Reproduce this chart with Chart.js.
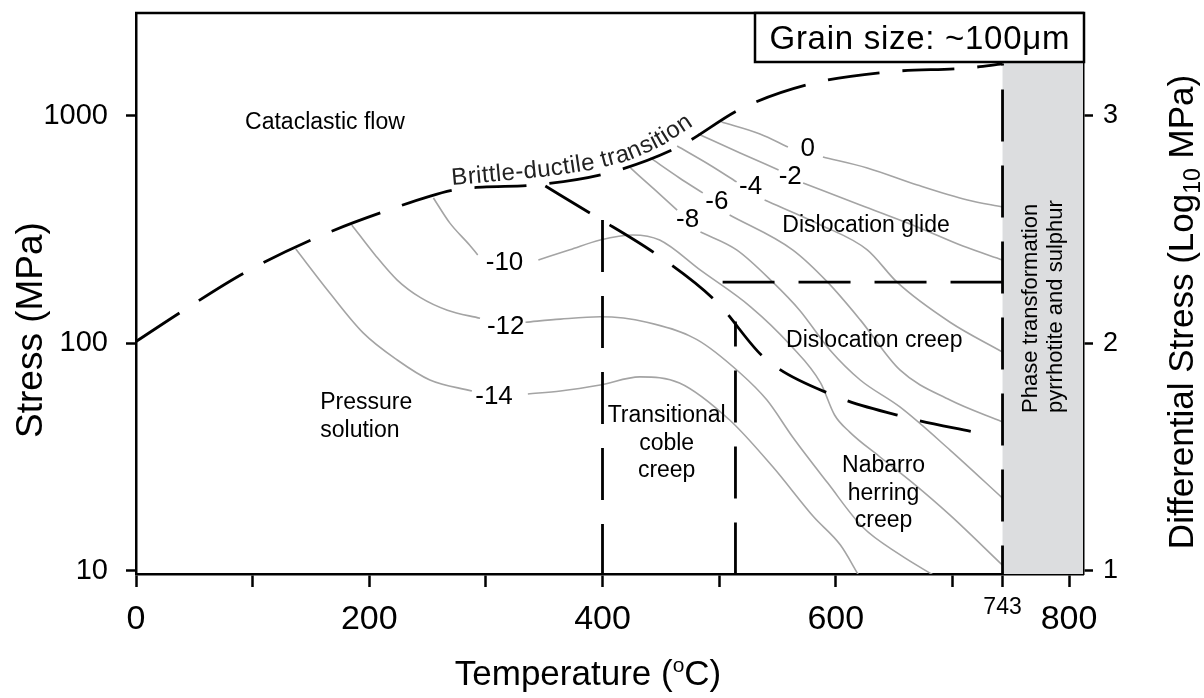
<!DOCTYPE html>
<html lang="en">
<head>
<meta charset="utf-8">
<title>Deformation mechanism map</title>
<script src="https://cdn.jsdelivr.net/npm/chart.js@4.4.1/dist/chart.umd.min.js"></script>
<style>
  html, body { margin: 0; padding: 0; background: #ffffff; }
  canvas { display: block; }
</style>
</head>
<body>
<canvas id="map" width="1204" height="698"></canvas>
<script>
// ---- axis ranges and ticks ----
const tempRange = [0, 812];
const stressRange = [9.7, 2836];
const tempTicks = [0, 100, 200, 300, 400, 500, 600, 700, 743, 800];
const tempTickLabels = ['0', '', '200', '', '400', '', '600', '', '', '800'];
const stressTicks = [10, 100, 1000];
const logStressTicks = [1, 2, 3];
const phaseTickLabel = '743';

// ---- mechanism boundaries (temperature in °C, stress in MPa) ----
const brittleT = [0, 39, 94, 154, 214, 272, 297, 340, 405, 465, 520, 578, 644, 713, 743];
const brittleS = [102, 138, 206, 291, 382, 473, 487, 497, 562, 731, 1084, 1383, 1561, 1626, 1693];

const creepT = [351, 392, 447, 498, 539, 597, 659, 722];
const creepS = [492, 367, 245, 152, 86.3, 59.4, 47.5, 40.4];

const cobleT = [400, 400];
const cobleS = [349, 9.5];
const nabarroT = [514, 514];
const nabarroS = [125, 9.5];
const glideT = [743, 503];
const glideS = [186, 186];
const phaseT = [743, 743];
const phaseS = [1700, 9.5];

// ---- strain-rate contours, log10 of strain rate (null = label gap) ----
const rateLevels = ['0', '-2', '-4', '-6', '-8', '-10', '-12', '-14'];
const rate0T  = [502, 535, 559, null, 589, 627, 670, 713, 743];
const rate0S  = [941, 834, 731, null, 660, 591, 497, 427, 398];
const rate2T  = [482, 518, 551, null, 572, 621, 672, 709, 743];
const rate2S  = [834, 688, 579, null, 508, 406, 322, 268, 233];
const rate4T  = [464, 492, 515, null, 539, 587, 627, 653, 698, 743];
const rate4S  = [738, 609, 513, null, 427, 332, 258, 185, 124, 91.7];
const rate6T  = [441, 466, 486, null, 509, 563, 593, 621, 655, 698, 743];
const rate6S  = [654, 534, 459, null, 367, 258, 186, 127, 76.5, 56.4, 45.2];
const rate8T  = [424, 445, 464, null, 484, 515, 546, 569, 595, 621, 655, 698, 743];
const rate8S  = [591, 473, 386, null, 309, 258, 186, 140, 93.6, 69.1, 52.6, 34.0, 20.9];
const rate10T = [255, 269, 286, 293, null, 345, 372, 398, 426, 449, 484, 527, 561, 587, 599, 612, 638, 666, 698, 743];
const rate10S = [436, 339, 271, 245, null, 233, 258, 285, 300, 285, 210, 145, 98.5, 67.1, 48.5, 40.8, 31.7, 24.4, 17.6, 10.6];
const rate12T = [185, 205, 224, 244, 267, 295, null, 334, 364, 398, 438, 481, 518, 541, 563, 593, 623, 655, 685];
const rate12S = [332, 245, 190, 159, 140, 129, null, 124, 128, 131, 124, 104, 74.2, 56.4, 38.8, 24.4, 15.6, 11.8, 9.5];
const rate14T = [137, 166, 195, 224, 252, 288, null, 336, 364, 398, 432, 466, 509, 546, 581, 604, 620];
const rate14S = [260, 167, 111, 84.6, 69.1, 61.8, null, 60.0, 61.8, 65.7, 71.3, 67.1, 46.1, 28.7, 17.3, 13.0, 9.5];

// where each contour's value is written
const rateLabelT = [576, 561, 527, 498, 473, 316, 317, 307];
const rateLabelS = [716, 540, 487, 419, 349, 226, 118, 58.2];

// ---- field names, anchored in (°C, MPa) ----
const fieldLabels = [
  { lines: ['Cataclastic flow'], t: 162, s: [877], align: 'center' },
  { lines: ['Pressure', 'solution'], t: 158, s: [51.5, 38.8], align: 'left' },
  { lines: ['Dislocation glide'], t: 626, s: [309], align: 'center' },
  { lines: ['Dislocation creep'], t: 633, s: [96.5], align: 'center' },
  { lines: ['Transitional', 'coble', 'creep'], t: 455, s: [45.2, 34.0, 25.9], align: 'center' },
  { lines: ['Nabarro', 'herring', 'creep'], t: 641, s: [27.2, 20.5, 15.6], align: 'center' }
];
const brittleLabel = 'Brittle-ductile transition';
const brittleLabelT = [271, 312, 355, 395, 424, 449, 475, 488];
const brittleLabelS = [497, 518, 545, 585, 641, 731, 886, 990];
const phaseLabelLines = ['Phase transformation', 'pyrrhotite and sulphur'];
const phaseLabelT = [772.5, 794];
const phaseLabelS = 49.5;
const grainLabel = 'Grain size: ~100\u03BCm';

const FONT = '"Liberation Sans", Arial, Helvetica, sans-serif';
const GREY_LINE = '#a4a4a4';
const BAND_FILL = '#dcdddf';

function points(T, S) {
  return T.map((t, i) => (S[i] === null ? { x: T[i - 1], y: null } : { x: t, y: S[i] }));
}

function dashed(T, S, extra) {
  return Object.assign({
    data: points(T, S), showLine: true, borderColor: '#000', borderWidth: 2.8,
    borderDash: [52, 24], pointRadius: 0, tension: 0, order: 0, borderCapStyle: 'butt'
  }, extra || {});
}

const rateSeries = [
  [rate0T, rate0S], [rate2T, rate2S], [rate4T, rate4S], [rate6T, rate6S],
  [rate8T, rate8S], [rate10T, rate10S], [rate12T, rate12S], [rate14T, rate14S]
];

const datasets = [
  dashed(brittleT, brittleS, { cubicInterpolationMode: 'monotone', borderDash: [52, 23] }),
  dashed(creepT, creepS, { cubicInterpolationMode: 'monotone', borderDash: [52, 23] }),
  dashed(cobleT, cobleS),
  dashed(nabarroT, nabarroS, { borderDashOffset: 27 }),
  dashed(glideT, glideS),
  dashed(phaseT, phaseS, { borderDashOffset: 50 }),
  ...rateSeries.map(([T, S]) => ({
    data: points(T, S), showLine: true, borderColor: GREY_LINE, borderWidth: 1.6,
    pointRadius: 0, cubicInterpolationMode: 'monotone', spanGaps: false, order: 1
  }))
];

function drawTextOnPath(ctx, text, pts, spacing) {
  const segs = [];
  let total = 0;
  for (let i = 1; i < pts.length; i++) {
    const dx = pts[i].x - pts[i - 1].x, dy = pts[i].y - pts[i - 1].y;
    const len = Math.hypot(dx, dy);
    segs.push({ x: pts[i - 1].x, y: pts[i - 1].y, dx, dy, len, start: total });
    total += len;
  }
  const at = (s) => {
    let g = segs[segs.length - 1];
    for (const sg of segs) { if (s <= sg.start + sg.len) { g = sg; break; } }
    const f = (s - g.start) / g.len;
    return { x: g.x + g.dx * f, y: g.y + g.dy * f };
  };
  let cursor = 0;
  for (const ch of text) {
    const w = ctx.measureText(ch).width;
    const mid = cursor + w / 2;
    const p = at(mid), p0 = at(Math.max(mid - 8, 0)), p1 = at(mid + 8);
    ctx.save();
    ctx.translate(p.x, p.y);
    ctx.rotate(Math.atan2(p1.y - p0.y, p1.x - p0.x));
    ctx.textAlign = 'center';
    ctx.fillText(ch, 0, 0);
    ctx.restore();
    cursor += w + spacing;
  }
}

// text made of runs with their own size and vertical shift, centred on (0,0)
function drawRuns(ctx, runs) {
  let total = 0;
  runs.forEach(r => { ctx.font = r.size + 'px ' + FONT; r.w = ctx.measureText(r.t).width; total += r.w; });
  let x = -total / 2;
  ctx.textAlign = 'left';
  ctx.textBaseline = 'alphabetic';
  runs.forEach(r => { ctx.font = r.size + 'px ' + FONT; ctx.fillText(r.t, x, r.dy || 0); x += r.w; });
}

const mapDecorations = {
  id: 'mapDecorations',
  beforeDatasetsDraw(chart) {
    const { ctx, chartArea: a, scales: { x } } = chart;
    const x0 = x.getPixelForValue(phaseT[0]);
    const top = a.top + 49;
    ctx.save();
    ctx.fillStyle = BAND_FILL;
    ctx.fillRect(x0, top, a.right - x0, a.bottom - top);
    ctx.restore();
  },
  afterDatasetsDraw(chart) {
    const { ctx, scales: { x, y } } = chart;
    ctx.save();
    ctx.fillStyle = '#000';
    // contour values
    ctx.font = '26px ' + FONT;
    ctx.textAlign = 'center';
    ctx.textBaseline = 'middle';
    rateLevels.forEach((lv, i) => {
      ctx.fillText(lv, x.getPixelForValue(rateLabelT[i]), y.getPixelForValue(rateLabelS[i]));
    });
    // field names
    ctx.font = '23px ' + FONT;
    ctx.textBaseline = 'alphabetic';
    fieldLabels.forEach(f => {
      ctx.textAlign = f.align;
      f.lines.forEach((ln, k) => ctx.fillText(ln, x.getPixelForValue(f.t), y.getPixelForValue(f.s[k])));
    });
    // boundary name along the brittle-ductile curve
    ctx.font = '24px ' + FONT;
    ctx.fillStyle = '#222';
    drawTextOnPath(ctx, brittleLabel,
      brittleLabelT.map((t, i) => ({ x: x.getPixelForValue(t), y: y.getPixelForValue(brittleLabelS[i]) })), 0.4);
    // phase transformation note
    ctx.fillStyle = '#000';
    ctx.font = '22px ' + FONT;
    ctx.textAlign = 'left';
    phaseLabelLines.forEach((ln, k) => {
      ctx.save();
      ctx.translate(x.getPixelForValue(phaseLabelT[k]), y.getPixelForValue(phaseLabelS));
      ctx.rotate(-Math.PI / 2);
      ctx.fillText(ln, 0, 0);
      ctx.restore();
    });
    ctx.restore();
  },
  afterDraw(chart) {
    const { ctx, chartArea: a, scales: { x } } = chart;
    ctx.save();
    ctx.strokeStyle = '#000';
    ctx.fillStyle = '#000';
    // top frame line
    ctx.lineWidth = 2.5;
    ctx.beginPath();
    ctx.moveTo(a.left - 1, a.top);
    ctx.lineTo(a.right + 1, a.top);
    ctx.stroke();
    // grain size box
    const bw = 329, bh = 49, bx = a.right + 1 - bw, by = a.top;
    ctx.fillStyle = '#fff';
    ctx.fillRect(bx, by, bw, bh);
    ctx.lineWidth = 2.5;
    ctx.strokeRect(bx, by, bw, bh);
    ctx.fillStyle = '#000';
    ctx.font = '33px ' + FONT;
    const gw = ctx.measureText(grainLabel).width;
    const gap = Math.max(0, (300 - gw) / (grainLabel.length - 1));
    let gx = bx + (bw - 300) / 2;
    ctx.textAlign = 'left';
    ctx.textBaseline = 'alphabetic';
    for (const ch of grainLabel) {
      ctx.fillText(ch, gx, by + 36);
      gx += ctx.measureText(ch).width + gap;
    }
    // 743 tick label
    ctx.textAlign = 'center';
    ctx.font = '23px ' + FONT;
    ctx.fillText(phaseTickLabel, x.getPixelForValue(743), a.bottom + 40);
    // axis titles
    ctx.save();
    ctx.translate(588, 685);
    drawRuns(ctx, [{ t: 'Temperature (', size: 35 }, { t: 'o', size: 21, dy: -13 }, { t: 'C)', size: 35 }]);
    ctx.restore();
    ctx.save();
    ctx.translate(42, 330);
    ctx.rotate(-Math.PI / 2);
    drawRuns(ctx, [{ t: 'Stress (MPa)', size: 37 }]);
    ctx.restore();
    ctx.save();
    ctx.translate(1193, 312);
    ctx.rotate(-Math.PI / 2);
    drawRuns(ctx, [{ t: 'Differential Stress (Log', size: 35 }, { t: '10', size: 23, dy: 7 }, { t: ' MPa)', size: 35 }]);
    ctx.restore();
    ctx.restore();
  }
};

const tickGrid = (len) => ({
  display: true, drawOnChartArea: false, drawTicks: true,
  tickLength: len, tickWidth: 2.5, tickColor: '#000'
});
const frame = { display: true, color: '#000', width: 2.5 };

new Chart(document.getElementById('map'), {
  type: 'scatter',
  data: { datasets },
  options: {
    responsive: false,
    animation: false,
    devicePixelRatio: 1,
    layout: { padding: { top: 13, left: 0, right: 0, bottom: 0 } },
    plugins: { legend: { display: false }, tooltip: { enabled: false } },
    scales: {
      x: {
        type: 'linear', position: 'bottom', min: tempRange[0], max: tempRange[1],
        afterBuildTicks: s => { s.ticks = tempTicks.map(v => ({ value: v })); },
        afterFit: s => { s.height = 124; s.paddingLeft = 0; s.paddingRight = 0; },
        ticks: {
          autoSkip: false, maxRotation: 0, minRotation: 0, padding: 12, color: '#000',
          font: { family: FONT, size: 34 },
          callback: (v, i) => tempTickLabels[i]
        },
        grid: tickGrid(13), border: frame
      },
      y: {
        type: 'logarithmic', position: 'left', min: stressRange[0], max: stressRange[1],
        afterBuildTicks: s => { s.ticks = stressTicks.map(v => ({ value: v })); },
        afterFit: s => { s.width = 136; s.paddingTop = 0; s.paddingBottom = 0; },
        ticks: {
          padding: 18, color: '#000', font: { family: FONT, size: 29 },
          callback: v => String(v)
        },
        grid: tickGrid(10), border: frame
      },
      yLog: {
        type: 'linear', position: 'right',
        min: Math.log10(stressRange[0]), max: Math.log10(stressRange[1]),
        afterBuildTicks: s => { s.ticks = logStressTicks.map(v => ({ value: v })); },
        afterFit: s => { s.width = 121; s.paddingTop = 0; s.paddingBottom = 0; },
        ticks: {
          padding: 10, color: '#000', font: { family: FONT, size: 27 },
          callback: v => String(v)
        },
        grid: tickGrid(10), border: frame
      }
    }
  },
  plugins: [mapDecorations]
});
</script>
</body>
</html>
